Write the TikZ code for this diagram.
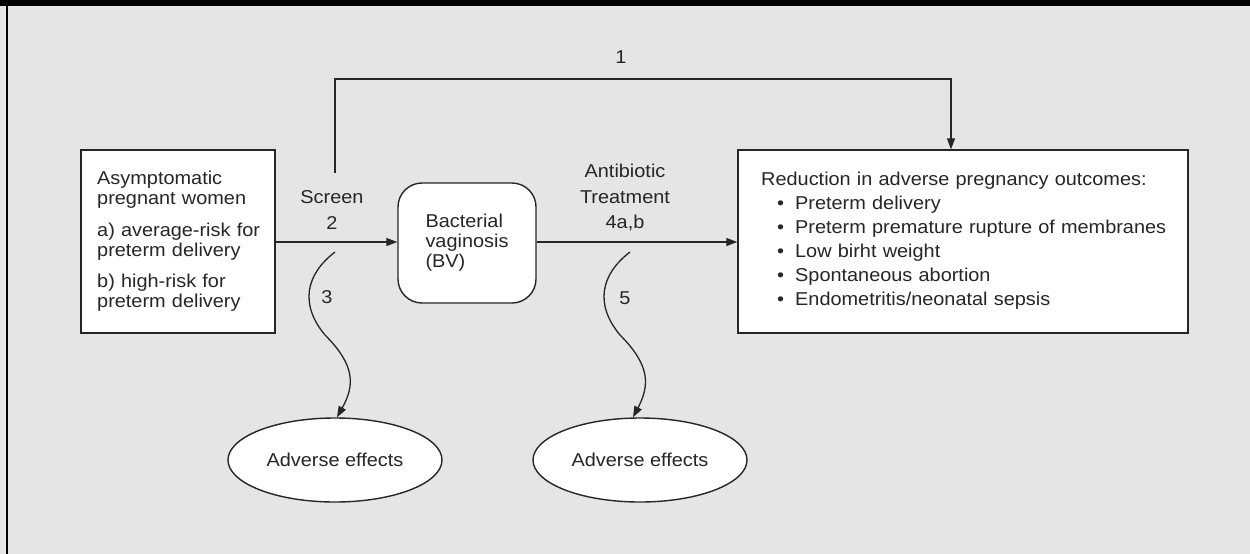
\documentclass[tikz,border=0pt]{standalone}
\usepackage{fontspec}
\setmainfont[FakeStretch=1.07]{Liberation Sans}
\usetikzlibrary{arrows.meta,shapes.geometric}
\begin{document}
\begin{tikzpicture}[x=1pt,y=-1pt,
  every node/.style={font=\fontsize{18.6}{20}\selectfont, text=black!85},
  boxnode/.style={draw=black!85, line width=1.4pt, fill=white, rectangle, inner sep=0pt},
  ovalnode/.style={draw=black!85, line width=1.4pt, fill=white, ellipse, inner sep=0pt, minimum width=214pt, minimum height=84pt},
  conn/.style={draw=black!85, line width=1.3pt, -{Triangle[length=11pt,width=8pt]}},
  lbl/.style={inner sep=0pt}
]
\useasboundingbox (0,0) rectangle (1250,554);
\fill[black!10] (0,0) rectangle (1250,554);
\fill[black] (0,0) rectangle (1250,6);
\fill[black] (5.5,0) rectangle (7.5,554);

% boxes
\node[boxnode, minimum width=194pt, minimum height=183pt] (women) at (178,241.5) {};
\node[lbl, anchor=north west, align=left, text width=175pt] (womentxt) at (97,171) {Asymptomatic\\pregnant women\\[11.5pt]a) average-risk for\\preterm delivery\\[11.5pt]b) high-risk for\\preterm delivery};

\node[boxnode, rounded corners=24pt, minimum width=138pt, minimum height=120pt, align=left] (bv) at (467,243) {Bacterial\\vaginosis\\(BV)};

\node[boxnode, minimum width=450pt, minimum height=183pt] (outc) at (963,241.5) {};
\node[lbl, anchor=north west, align=left, font=\fontsize{18.6}{24}\selectfont, text width=420pt] (outctxt) at (761,171.5) {Reduction in adverse pregnancy outcomes:\\
\hspace*{16pt}\textbullet\hspace{11pt}Preterm delivery\\
\hspace*{16pt}\textbullet\hspace{11pt}Preterm premature rupture of membranes\\
\hspace*{16pt}\textbullet\hspace{11pt}Low birht weight\\
\hspace*{16pt}\textbullet\hspace{11pt}Spontaneous abortion\\
\hspace*{16pt}\textbullet\hspace{11pt}Endometritis/neonatal sepsis};

\node[ovalnode] (ae1) at (335,460) {Adverse effects};
\node[ovalnode] (ae2) at (640,460) {Adverse effects};

% connectors
\draw[conn] (women.east |- 0,242) -- (bv.west |- 0,242);
\draw[conn] (bv.east |- 0,242) -- (outc.west |- 0,242);

\coordinate (p1start) at (335,173);
\coordinate (p1a) at (335,79);
\coordinate (p1b) at (951,79);
\draw[conn] (p1start) -- (p1a) -- (p1b) -- (p1b |- outc.north);

\coordinate (c3start) at (335,252);
\draw[conn] (c3start) .. controls (305,275) and (300,305) .. (325,335) .. controls (355,365) and (355,385) .. (ae1.north -| 337,0);
\coordinate (c5start) at (630,252);
\draw[conn] (c5start) .. controls (600,275) and (595,305) .. (620,335) .. controls (650,365) and (650,385) .. (ae2.north -| 633,0);

% labels
\node[lbl] (l1) at (621,57) {1};
\node[lbl, align=center, font=\fontsize{18.6}{26}\selectfont] (l2) at (332,210) {Screen\\2};
\node[lbl] (l3) at (327,297) {3};
\node[lbl, align=center, font=\fontsize{18.6}{25.5}\selectfont] (l4) at (625,197.5) {Antibiotic\\Treatment\\4a,b};
\node[lbl] (l5) at (625,298) {5};
\end{tikzpicture}
\end{document}
